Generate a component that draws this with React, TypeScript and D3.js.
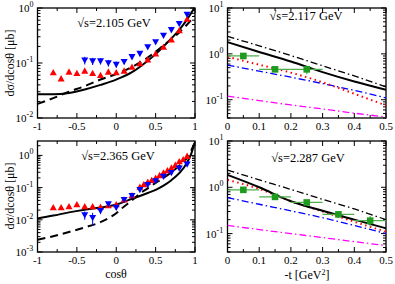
import { useEffect, useRef } from 'react';
import * as d3 from 'd3';

// ---- left panels: cos(theta) distributions ----
const cosRed1 = [-0.8, -0.7, -0.6, -0.5, -0.4, -0.3, -0.2, -0.1, 0, 0.1, 0.2, 0.3, 0.4, 0.5, 0.6, 0.7, 0.8, 0.9];
const red1 = [0.067, 0.052, 0.069, 0.065, 0.072, 0.065, 0.06, 0.069, 0.067, 0.072, 0.085, 0.098, 0.115, 0.148, 0.195, 0.265, 0.39, 0.63];
const cosBlue1 = [-0.4, -0.3, -0.2, -0.1, 0, 0.1, 0.2, 0.3, 0.4, 0.5, 0.6, 0.7, 0.8, 0.9];
const blue1 = [0.112, 0.108, 0.108, 0.1, 0.094, 0.105, 0.129, 0.148, 0.195, 0.24, 0.317, 0.4, 0.515, 0.76];
const blue1Err = [0.018, 0.016, 0.014, 0.014, 0.012, 0.01, 0.01, 0.01, 0.012, 0.014, 0.016, 0.02, 0.025, 0.035];
const cosCurve1 = [-1, -0.8, -0.6, -0.4, -0.2, 0, 0.2, 0.4, 0.5, 0.6, 0.7, 0.8, 0.9, 1];
const solid1 = [0.027, 0.027, 0.0285, 0.033, 0.04, 0.05, 0.068, 0.11, 0.145, 0.2, 0.28, 0.4, 0.62, 1.05];
const dashed1 = [0.018, 0.023, 0.03, 0.038, 0.05, 0.063, 0.085, 0.125, 0.16, 0.21, 0.27, 0.36, 0.5, 0.72];

const cosRed2 = [-0.8, -0.7, -0.6, -0.5, -0.4, -0.3, -0.2, -0.1, 0, 0.1, 0.2, 0.3, 0.35, 0.4, 0.45, 0.5, 0.55, 0.6, 0.65, 0.7, 0.75, 0.8, 0.85, 0.9];
const red2 = [0.024, 0.024, 0.026, 0.03, 0.026, 0.026, 0.025, 0.028, 0.03, 0.042, 0.057, 0.105, 0.125, 0.15, 0.17, 0.2, 0.24, 0.29, 0.34, 0.41, 0.5, 0.65, 0.75, 0.95];
const cosBlue2 = [-0.4, -0.3, -0.2, -0.1, 0, 0.1, 0.2, 0.3, 0.4, 0.5, 0.6, 0.7, 0.8, 0.9];
const blue2 = [0.014, 0.0115, 0.019, 0.031, 0.024, 0.042, 0.056, 0.086, 0.123, 0.16, 0.22, 0.29, 0.4, 0.53];
const blue2Err = [0.004, 0.005, 0.004, 0.005, 0.004, 0.004, 0.004, 0.005, 0.006, 0.008, 0.01, 0.012, 0.015, 0.02];
const cosCurve2 = [-1, -0.8, -0.6, -0.4, -0.2, 0, 0.1, 0.2, 0.3, 0.4, 0.5, 0.6, 0.7, 0.8, 0.9, 0.95, 1];
const solid2 = [0.011, 0.0135, 0.017, 0.0205, 0.024, 0.03, 0.036, 0.045, 0.055, 0.068, 0.085, 0.115, 0.17, 0.28, 0.6, 1.1, 2.6];
const dashed2 = [0.0024, 0.0031, 0.0042, 0.0058, 0.0085, 0.016, 0.026, 0.04, 0.065, 0.095, 0.14, 0.2, 0.3, 0.48, 0.85, 1.4, 2.6];

// ---- right panels: -t distributions ----
const tGrid = [0, 0.1, 0.2, 0.3, 0.4, 0.5];
const dashDot3 = [2.4, 1.5, 0.92, 0.55, 0.33, 0.19];
const solid3 = [1.8, 1.1, 0.68, 0.4, 0.25, 0.165];
const dotted3 = [0.86, 0.58, 0.39, 0.24, 0.135, 0.075];
const blue3 = [0.57, 0.42, 0.31, 0.225, 0.16, 0.11];
const magenta3 = [0.12, 0.096, 0.077, 0.063, 0.051, 0.042];
const tGreen3 = [0.05, 0.15, 0.25];
const green3 = [0.9, 0.46, 0.46];
const green3Err = [0.06, 0.05, 0.1];

const dashDot4 = [2.35, 1.45, 0.9, 0.55, 0.34, 0.2];
const solid4 = [1.85, 1.0, 0.5, 0.31, 0.2, 0.13];
const dotted4 = [1.45, 0.92, 0.5, 0.3, 0.18, 0.11];
const blue4 = [0.6, 0.43, 0.31, 0.22, 0.15, 0.1];
const magenta4 = [0.15, 0.122, 0.1, 0.082, 0.067, 0.055];
const tGreen4 = [0.05, 0.15, 0.25, 0.35, 0.45];
const green4 = [0.88, 0.62, 0.47, 0.26, 0.19];
const green4Err = [0.08, 0.06, 0.06, 0.04, 0.05];

const font = '"Liberation Serif", "Times New Roman", serif';

type Pt = [number, number];
const zip = (xs: number[], ys: number[]): Pt[] => xs.map((x, i) => [x, ys[i]]);

const App = () => {
  const svgRef = useRef<SVGSVGElement>(null);

  useEffect(() => {
    if (!svgRef.current) return;
    const svg = d3.select(svgRef.current);
    svg.selectAll('*').remove();
    svg.append('rect').attr('width', 395).attr('height', 284).attr('fill', 'white');

    const drawPanel = (opts: {
      x0: number; x1: number; y0: number; y1: number;
      xDomain: [number, number]; yDomain: [number, number];
      xMajor: number[]; xMinor: number[]; xFmt: (d: number) => string;
      label: string; labelX: number; labelY: number;
    }) => {
      const x = d3.scaleLinear().domain(opts.xDomain).range([opts.x0, opts.x1]);
      const y = d3.scaleLog().domain(opts.yDomain).range([opts.y1, opts.y0]);
      const g = svg.append('g');

      // ticks on all four sides, pointing inward
      const tick = (x1: number, y1: number, x2: number, y2: number) =>
        g.append('line').attr('x1', x1).attr('y1', y1).attr('x2', x2).attr('y2', y2)
          .attr('stroke', 'black').attr('stroke-width', 1);
      opts.xMajor.forEach(v => {
        tick(x(v), opts.y1, x(v), opts.y1 - 5);
        tick(x(v), opts.y0, x(v), opts.y0 + 5);
        g.append('text').attr('x', x(v)).attr('y', opts.y1 + 12).attr('text-anchor', 'middle')
          .attr('font-family', font).attr('font-size', 11).text(opts.xFmt(v));
      });
      opts.xMinor.forEach(v => {
        tick(x(v), opts.y1, x(v), opts.y1 - 3);
        tick(x(v), opts.y0, x(v), opts.y0 + 3);
      });
      const e0 = Math.ceil(Math.log10(opts.yDomain[0]) - 1e-9);
      const e1 = Math.floor(Math.log10(opts.yDomain[1]) + 1e-9);
      for (let e = Math.floor(Math.log10(opts.yDomain[0])); e <= e1; e++) {
        for (let k = 1; k < 10; k++) {
          const v = k * Math.pow(10, e);
          if (v < opts.yDomain[0] * 0.999 || v > opts.yDomain[1] * 1.001) continue;
          const len = k === 1 ? 5 : 3;
          tick(opts.x0, y(v), opts.x0 + len, y(v));
          tick(opts.x1, y(v), opts.x1 - len, y(v));
        }
      }
      for (let e = e0; e <= e1; e++) {
        const t = g.append('text').attr('x', opts.x0 - 4 - (e < 0 ? 7 : 4)).attr('y', y(Math.pow(10, e)) + 4)
          .attr('text-anchor', 'end').attr('font-family', font).attr('font-size', 11);
        t.append('tspan').text('10');
        t.append('tspan').attr('x', opts.x0 - 4 - (e < 0 ? 7 : 4)).attr('text-anchor', 'start')
          .attr('dy', -5).attr('font-size', 8).text(String(e));
      }

      g.append('text').attr('x', opts.labelX).attr('y', opts.labelY).attr('text-anchor', 'middle')
        .attr('font-family', font).attr('font-size', 12.5).text(opts.label);

      const clipId = `clip${Math.round(opts.x0)}_${Math.round(opts.y0)}`;
      svg.append('clipPath').attr('id', clipId).append('rect')
        .attr('x', opts.x0).attr('y', opts.y0).attr('width', opts.x1 - opts.x0).attr('height', opts.y1 - opts.y0);
      const plot = svg.append('g').attr('clip-path', `url(#${clipId})`);

      const line = d3.line<Pt>().x(d => x(d[0])).y(d => y(d[1])).curve(d3.curveMonotoneX);
      const curve = (pts: Pt[], color: string, width: number, dash: string | null) =>
        plot.append('path').attr('d', line(pts)).attr('fill', 'none').attr('stroke', color)
          .attr('stroke-width', width).attr('stroke-dasharray', dash);

      const triangles = (xs: number[], ys: number[], color: string, down: boolean, errs?: number[]) => {
        xs.forEach((xv, i) => {
          const cx = x(xv), cy = y(ys[i]);
          if (errs) {
            plot.append('line').attr('x1', cx).attr('x2', cx)
              .attr('y1', y(ys[i] + errs[i])).attr('y2', y(Math.max(ys[i] - errs[i], 1e-4)))
              .attr('stroke', color).attr('stroke-width', 1);
          }
          const s = 3.5;
          const p = down
            ? `M${cx - s},${cy - s * 0.8}L${cx + s},${cy - s * 0.8}L${cx},${cy + s}Z`
            : `M${cx - s},${cy + s * 0.8}L${cx + s},${cy + s * 0.8}L${cx},${cy - s}Z`;
          plot.append('path').attr('d', p).attr('fill', color);
        });
      };

      const squares = (xs: number[], ys: number[], errs: number[], half: number) => {
        xs.forEach((xv, i) => {
          const cx = x(xv), cy = y(ys[i]);
          plot.append('line').attr('x1', x(xv - half)).attr('x2', x(xv + half)).attr('y1', cy).attr('y2', cy)
            .attr('stroke', '#4caf4c').attr('stroke-width', 1.2);
          plot.append('line').attr('x1', cx).attr('x2', cx).attr('y1', y(ys[i] + errs[i])).attr('y2', y(ys[i] - errs[i]))
            .attr('stroke', '#4caf4c').attr('stroke-width', 1.2);
          plot.append('rect').attr('x', cx - 3.3).attr('y', cy - 3.3).attr('width', 6.6).attr('height', 6.6)
            .attr('fill', '#1e9a1e');
        });
      };

      g.append('rect').attr('x', opts.x0).attr('y', opts.y0).attr('width', opts.x1 - opts.x0)
        .attr('height', opts.y1 - opts.y0).attr('fill', 'none').attr('stroke', 'black').attr('stroke-width', 1.3);

      return { curve, triangles, squares };
    };

    const cosMajor = [-1, -0.5, 0, 0.5, 1];
    const cosMinor = [-0.75, -0.25, 0.25, 0.75];
    const tMajor = [0, 0.1, 0.2, 0.3, 0.4, 0.5];
    const tMinor = [0.05, 0.15, 0.25, 0.35, 0.45];
    const fmtT = (d: number) => (d === 0 ? '0' : String(d));

    // top-left
    const p1 = drawPanel({ x0: 37.5, x1: 195, y0: 8, y1: 118, xDomain: [-1, 1], yDomain: [0.01, 1],
      xMajor: cosMajor, xMinor: cosMinor, xFmt: d => String(d), label: '\u221As=2.105 GeV', labelX: 114, labelY: 27 });
    p1.curve(zip(cosCurve1, solid1), 'black', 2, null);
    p1.curve(zip(cosCurve1, dashed1), 'black', 2, '8,5');
    p1.triangles(cosRed1, red1, '#ff0000', false);
    p1.triangles(cosBlue1, blue1, '#0000ff', true, blue1Err);

    // top-right
    const p3 = drawPanel({ x0: 227.5, x1: 386, y0: 8, y1: 118, xDomain: [0, 0.5], yDomain: [0.04, 10],
      xMajor: tMajor, xMinor: tMinor, xFmt: fmtT, label: '\u221As=2.117 GeV', labelX: 306, labelY: 20 });
    p3.curve(zip(tGrid, magenta3), '#ff00ff', 1.3, '7,3,1.5,3');
    p3.curve(zip(tGrid, blue3), '#0000ff', 1.3, '7,3,1.5,3');
    p3.curve(zip(tGrid, dotted3), '#ff0000', 2, '1.5,3.5');
    p3.curve(zip(tGrid, dashDot3), 'black', 1.3, '7,3,1.5,3');
    p3.curve(zip(tGrid, solid3), 'black', 2, null);
    p3.squares(tGreen3, green3, green3Err, 0.05);

    // bottom-left
    const p2 = drawPanel({ x0: 37.5, x1: 195, y0: 141, y1: 252, xDomain: [-1, 1], yDomain: [0.001, 2.8],
      xMajor: cosMajor, xMinor: cosMinor, xFmt: d => String(d), label: '\u221As=2.365 GeV', labelX: 118, labelY: 160 });
    p2.curve(zip(cosCurve2, solid2), 'black', 2, null);
    p2.curve(zip(cosCurve2, dashed2), 'black', 2, '8,5');
    p2.triangles(cosRed2, red2, '#ff0000', false);
    p2.triangles(cosBlue2, blue2, '#0000ff', true, blue2Err);

    // bottom-right
    const p4 = drawPanel({ x0: 227.5, x1: 386, y0: 141, y1: 252, xDomain: [0, 0.5], yDomain: [0.04, 10],
      xMajor: tMajor, xMinor: tMinor, xFmt: fmtT, label: '\u221As=2.287 GeV', labelX: 308, labelY: 162 });
    p4.curve(zip(tGrid, magenta4), '#ff00ff', 1.3, '7,3,1.5,3');
    p4.curve(zip(tGrid, blue4), '#0000ff', 1.3, '7,3,1.5,3');
    p4.curve(zip(tGrid, dotted4), '#ff0000', 2, '1.5,3.5');
    p4.curve(zip(tGrid, dashDot4), 'black', 1.3, '7,3,1.5,3');
    p4.curve(zip(tGrid, solid4), 'black', 2, null);
    p4.squares(tGreen4, green4, green4Err, 0.05);

    // axis titles
    const yTitle = (cy: number, txt: string) =>
      svg.append('text').attr('transform', `translate(14,${cy}) rotate(-90)`).attr('text-anchor', 'middle')
        .attr('font-family', font).attr('font-size', 12).text(txt);
    yTitle(63, 'd\u03C3/dcos\u03B8  [\u03BCb]');
    yTitle(196, 'd\u03C3/dcos\u03B8 [\u03BCb]');
    svg.append('text').attr('x', 116).attr('y', 278).attr('text-anchor', 'middle')
      .attr('font-family', font).attr('font-size', 12).text('cos\u03B8');
    const tt = svg.append('text').attr('x', 307).attr('y', 279).attr('text-anchor', 'middle')
      .attr('font-family', font).attr('font-size', 12);
    tt.append('tspan').text('-t [GeV');
    tt.append('tspan').attr('dy', -4).attr('font-size', 8).text('2');
    tt.append('tspan').attr('dy', 4).text(']');
  }, []);

  return (
    <div style={{ position: 'absolute', left: 0, top: 0 }}>
      <svg ref={svgRef} width={395} height={284} style={{ display: 'block' }}></svg>
    </div>
  );
};

export default App;
